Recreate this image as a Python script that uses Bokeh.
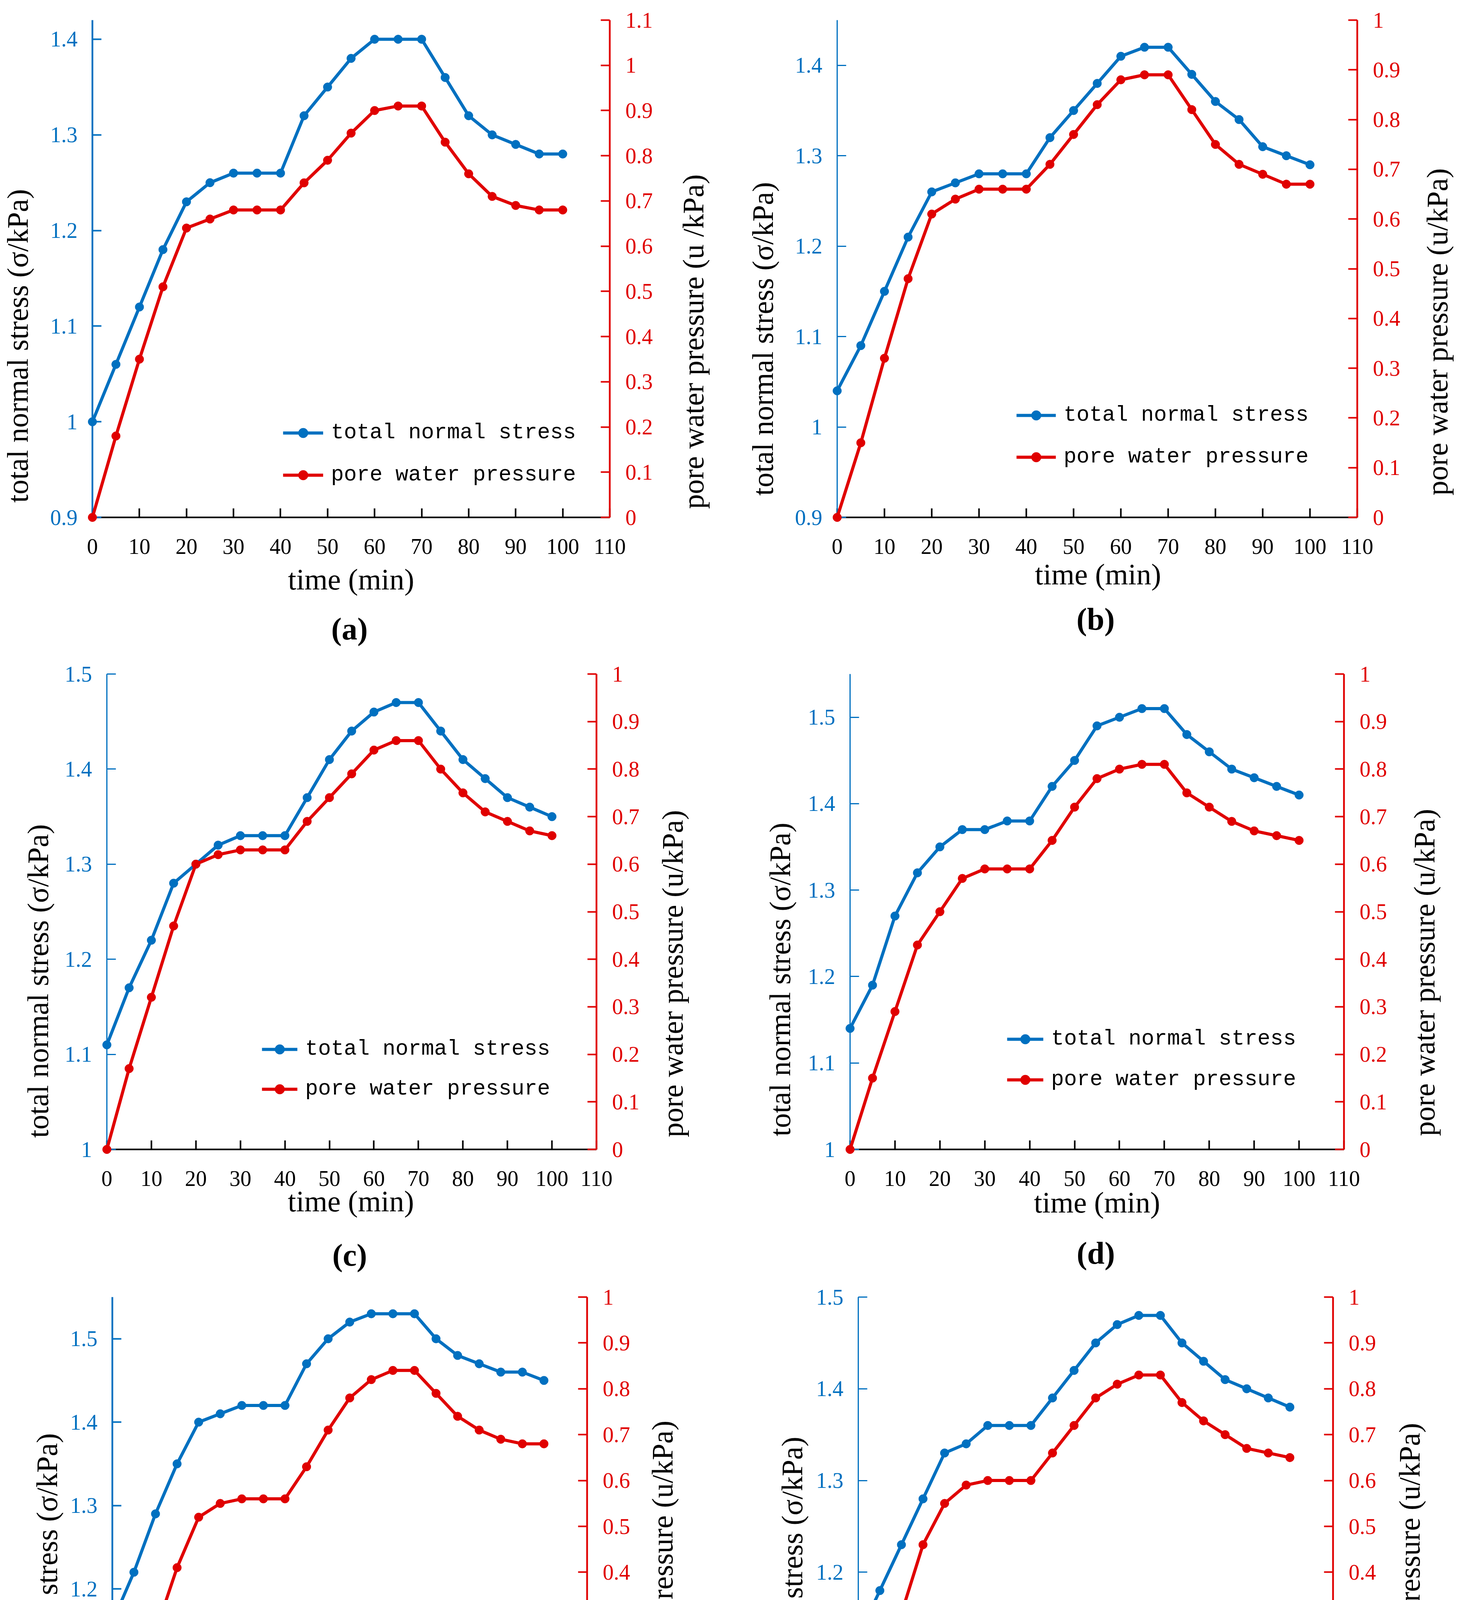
import math
from bokeh.plotting import figure
from bokeh.models import Range1d, LinearAxis, FixedTicker, Legend, LegendItem
from bokeh.core.properties import value
from bokeh.layouts import column, row
from bokeh.embed import file_html
from bokeh.resources import INLINE

# ---------------- data ----------------
time_min = [0, 5, 10, 15, 20, 25, 30, 35, 40, 45, 50, 55, 60, 65, 70, 75, 80, 85, 90, 95, 100]

sigma_a = [1.00, 1.06, 1.12, 1.18, 1.23, 1.25, 1.26, 1.26, 1.26, 1.32, 1.35, 1.38, 1.40, 1.40, 1.40, 1.36, 1.32, 1.30, 1.29, 1.28, 1.28]
pwp_a = [0.00, 0.18, 0.35, 0.51, 0.64, 0.66, 0.68, 0.68, 0.68, 0.74, 0.79, 0.85, 0.90, 0.91, 0.91, 0.83, 0.76, 0.71, 0.69, 0.68, 0.68]
sigma_b = [1.04, 1.09, 1.15, 1.21, 1.26, 1.27, 1.28, 1.28, 1.28, 1.32, 1.35, 1.38, 1.41, 1.42, 1.42, 1.39, 1.36, 1.34, 1.31, 1.30, 1.29]
pwp_b = [0.00, 0.15, 0.32, 0.48, 0.61, 0.64, 0.66, 0.66, 0.66, 0.71, 0.77, 0.83, 0.88, 0.89, 0.89, 0.82, 0.75, 0.71, 0.69, 0.67, 0.67]
sigma_c = [1.11, 1.17, 1.22, 1.28, 1.30, 1.32, 1.33, 1.33, 1.33, 1.37, 1.41, 1.44, 1.46, 1.47, 1.47, 1.44, 1.41, 1.39, 1.37, 1.36, 1.35]
pwp_c = [0.00, 0.17, 0.32, 0.47, 0.60, 0.62, 0.63, 0.63, 0.63, 0.69, 0.74, 0.79, 0.84, 0.86, 0.86, 0.80, 0.75, 0.71, 0.69, 0.67, 0.66]
sigma_d = [1.14, 1.19, 1.27, 1.32, 1.35, 1.37, 1.37, 1.38, 1.38, 1.42, 1.45, 1.49, 1.50, 1.51, 1.51, 1.48, 1.46, 1.44, 1.43, 1.42, 1.41]
pwp_d = [0.00, 0.15, 0.29, 0.43, 0.50, 0.57, 0.59, 0.59, 0.59, 0.65, 0.72, 0.78, 0.80, 0.81, 0.81, 0.75, 0.72, 0.69, 0.67, 0.66, 0.65]
sigma_e = [1.16, 1.22, 1.29, 1.35, 1.40, 1.41, 1.42, 1.42, 1.42, 1.47, 1.50, 1.52, 1.53, 1.53, 1.53, 1.50, 1.48, 1.47, 1.46, 1.46, 1.45]
pwp_e = [0.00, 0.14, 0.27, 0.41, 0.52, 0.55, 0.56, 0.56, 0.56, 0.63, 0.71, 0.78, 0.82, 0.84, 0.84, 0.79, 0.74, 0.71, 0.69, 0.68, 0.68]
sigma_f = [1.13, 1.18, 1.23, 1.28, 1.33, 1.34, 1.36, 1.36, 1.36, 1.39, 1.42, 1.45, 1.47, 1.48, 1.48, 1.45, 1.43, 1.41, 1.40, 1.39, 1.38]
pwp_f = [0.00, 0.16, 0.31, 0.46, 0.55, 0.59, 0.60, 0.60, 0.60, 0.66, 0.72, 0.78, 0.81, 0.83, 0.83, 0.77, 0.73, 0.70, 0.67, 0.66, 0.65]

time_ticks = [0, 10, 20, 30, 40, 50, 60, 70, 80, 90, 100, 110]
sigma_ticks_ab = [0.9, 1.0, 1.1, 1.2, 1.3, 1.4]
sigma_ticks_cdef = [1.0, 1.1, 1.2, 1.3, 1.4, 1.5]
pwp_ticks_a = [0.0, 0.1, 0.2, 0.3, 0.4, 0.5, 0.6, 0.7, 0.8, 0.9, 1.0, 1.1]
pwp_ticks = [0.0, 0.1, 0.2, 0.3, 0.4, 0.5, 0.6, 0.7, 0.8, 0.9, 1.0]

sigma_ranges = {"a": (0.9, 1.42), "b": (0.9, 1.45), "c": (1.0, 1.5),
                "d": (1.0, 1.55), "e": (1.0, 1.55), "f": (1.0, 1.5)}
pwp_ranges = {"a": (0.0, 1.1), "b": (0.0, 1.0), "c": (0.0, 1.0),
              "d": (0.0, 1.0), "e": (0.0, 1.0), "f": (0.0, 1.0)}
time_range = (0, 110)

series_names = ["total normal stress", "pore water pressure"]
left_title = "total normal stress (σ/kPa)"
right_title_a = "pore water pressure (u /kPa)"
right_title = "pore water pressure (u/kPa)"
x_title = "time (min)"

# ---------------- style ----------------
BLUE = "#0070C0"
RED = "#E00000"
SERIF = "Liberation Serif"
MONO = "Liberation Mono"


def fmt(t):
    return ("%.2f" % t).rstrip("0").rstrip(".")


# cell (x0, y0, x1, y1) and frame (L, T, R, B) in page pixels.
# lt: left title (dx from frame left, height above frame bottom)
# rt: right title (dx from frame right, height above frame bottom)
# xt / pl: x title / panel letter (dx from frame centre, depth below frame bottom)
# leg: legend (x, y, spacing, glyph width)
panels = [
    dict(key="a", sigma=sigma_a, pwp=pwp_a, sticks=sigma_ticks_ab, pticks=pwp_ticks_a, rtt=right_title_a,
         cell=(8, 8, 1870, 1665), frame=(244, 45, 1568, 1332), bw=4.5,
         lt=(-192, 439), rt=(213, 450), xt=(0, 158), pl=(-4, 285), leg=(488, 77, 45, 103)),
    dict(key="b", sigma=sigma_b, pwp=pwp_b, sticks=sigma_ticks_ab, pticks=pwp_ticks, rtt=right_title,
         cell=(1870, 8, 3731, 1665), frame=(2150, 59, 3481, 1350), bw=3,
         lt=(-191, 457), rt=(204, 475), xt=(2, 145), pl=(-4, 260), leg=(459, 123, 44, 101)),
    dict(key="c", sigma=sigma_c, pwp=pwp_c, sticks=sigma_ticks_cdef, pticks=pwp_ticks, rtt=right_title,
         cell=(8, 1665, 1870, 3265), frame=(281, 1733, 1534, 2950), bw=3,
         lt=(-177, 431), rt=(194, 450), xt=(-2, 132), pl=(-5, 270), leg=(397, 123, 39, 91)),
    dict(key="d", sigma=sigma_d, pwp=pwp_d, sticks=sigma_ticks_cdef, pticks=pwp_ticks, rtt=right_title,
         cell=(1870, 1665, 3731, 3265), frame=(2183, 1726, 3447, 2955), bw=3,
         lt=(-180, 435), rt=(205, 453), xt=(0, 135), pl=(-3, 265), leg=(402, 147, 41, 93)),
    dict(key="e", sigma=sigma_e, pwp=pwp_e, sticks=sigma_ticks_cdef, pticks=pwp_ticks, rtt=right_title,
         cell=(8, 3265, 1870, 4802), frame=(295, 3320, 1510, 4508), bw=4.5,
         lt=(-168, 424), rt=(192, 439), xt=(0, 129), pl=(3, 248), leg=(366, 150, 37, 89)),
    dict(key="f", sigma=sigma_f, pwp=pwp_f, sticks=sigma_ticks_cdef, pticks=pwp_ticks, rtt=right_title,
         cell=(1870, 3265, 3731, 4802), frame=(2204, 3328, 3419, 4502), bw=3,
         lt=(-170, 415), rt=(195, 433), xt=(0, 126), pl=(2, 254), leg=(430, 133, 35, 89)),
]


def style_axis(ax, color, label_color, width, ticks, standoff):
    ax.ticker = FixedTicker(ticks=ticks, minor_ticks=[])
    ax.major_label_overrides = {t: fmt(t) for t in ticks}
    ax.axis_line_color = color
    ax.axis_line_width = width
    ax.major_tick_line_color = color
    ax.major_tick_line_width = min(width, 4)
    ax.major_tick_in = 23
    ax.major_tick_out = 0
    ax.minor_tick_in = 0
    ax.minor_tick_out = 0
    ax.major_label_text_color = label_color
    ax.major_label_text_font = SERIF
    ax.major_label_text_font_size = "56px"
    ax.major_label_standoff = standoff
    ax.axis_label = None


def add_text(p, x, y, txt, dx, dy, angle=0.0, size="76px", style="normal"):
    p.text(x=[x], y=[y], text=[txt], x_offset=[dx], y_offset=[dy], angle=angle,
           text_align="center", text_baseline="middle",
           text_font=value(SERIF), text_font_size=value(size), text_font_style=style,
           text_color="black", level="overlay")


def make_panel(cfg):
    cx0, cy0, cx1, cy1 = cfg["cell"]
    L, T, R, B = cfg["frame"]
    k = cfg["key"]
    y0 = sigma_ranges[k][0]
    p = figure(width=cx1 - cx0, height=cy1 - cy0,
               x_range=Range1d(*time_range), y_range=Range1d(*sigma_ranges[k]),
               output_backend="svg", toolbar_location=None,
               min_border_left=L - cx0, min_border_right=cx1 - R,
               min_border_top=T - cy0, min_border_bottom=cy1 - B)
    p.extra_y_ranges = {"pwp": Range1d(*pwp_ranges[k])}
    p.xgrid.visible = False
    p.ygrid.visible = False
    p.outline_line_color = None
    p.background_fill_color = "white"
    p.border_fill_color = "white"

    style_axis(p.xaxis[0], "black", "black", 4, time_ticks, 55)
    style_axis(p.yaxis[0], BLUE, BLUE, cfg["bw"], cfg["sticks"], 38)
    rax = LinearAxis(y_range_name="pwp")
    style_axis(rax, RED, RED, 4.5, cfg["pticks"], 40)
    p.add_layout(rax, "right")

    l1 = p.line(time_min, cfg["sigma"], line_color=BLUE, line_width=8, level="overlay")
    s1 = p.scatter(time_min, cfg["sigma"], size=22, fill_color=BLUE, line_color=BLUE, level="overlay")
    l2 = p.line(time_min, cfg["pwp"], line_color=RED, line_width=8, y_range_name="pwp", level="overlay")
    s2 = p.scatter(time_min, cfg["pwp"], size=22, fill_color=RED, line_color=RED, y_range_name="pwp", level="overlay")

    lx, ly, sp, gw = cfg["leg"]
    legend = Legend(items=[LegendItem(label=series_names[0], renderers=[l1, s1]),
                           LegendItem(label=series_names[1], renderers=[l2, s2])],
                    location=(lx, ly), padding=0, margin=0, spacing=sp,
                    glyph_width=gw, glyph_height=62, label_height=62, label_standoff=20,
                    border_line_color=None, background_fill_alpha=0,
                    label_text_font=MONO, label_text_font_size="55px",
                    label_text_color="black", label_text_baseline="middle")
    p.add_layout(legend, "center")

    xmid = (time_range[0] + time_range[1]) / 2.0
    add_text(p, time_range[0], y0, left_title, cfg["lt"][0], -cfg["lt"][1], angle=math.pi / 2)
    add_text(p, time_range[1], y0, cfg["rtt"], cfg["rt"][0], -cfg["rt"][1], angle=math.pi / 2)
    add_text(p, xmid, y0, x_title, cfg["xt"][0], cfg["xt"][1])
    add_text(p, xmid, y0, "(" + k + ")", cfg["pl"][0], cfg["pl"][1], size="80px", style="bold")
    return p


figs = [make_panel(c) for c in panels]
layout = column(row(figs[0], figs[1]), row(figs[2], figs[3]), row(figs[4], figs[5]))

open("out.html", "w").write(file_html(layout, INLINE))
